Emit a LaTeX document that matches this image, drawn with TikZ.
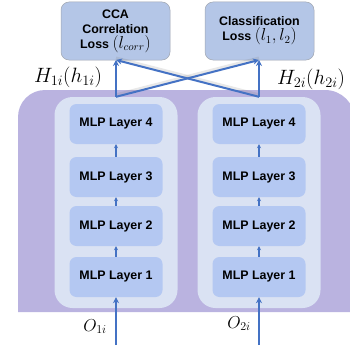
\documentclass[tikz,border=0pt]{standalone}
\usepackage{fontspec}
\setsansfont{Liberation Sans}
\usetikzlibrary{arrows.meta}
\definecolor{bgpurple}{RGB}{186,179,224}
\definecolor{panelc}{RGB}{218,226,243}
\definecolor{mlpc}{RGB}{180,200,242}
\definecolor{lossc}{RGB}{180,198,231}
\definecolor{lossb}{RGB}{160,165,175}
\definecolor{arrc}{RGB}{68,114,196}
\tikzset{
  mlp/.style={fill=mlpc, rounded corners=7pt, minimum width=93pt, minimum height=40pt,
    inner sep=0pt, font=\sffamily\bfseries\fontsize{12.4}{15}\selectfont},
  panel/.style={fill=panelc, rounded corners=18pt, minimum width=123pt, minimum height=211pt, inner sep=0pt},
  loss/.style={fill=lossc, draw=lossb, line width=0.5pt, rounded corners=8pt, minimum width=109pt,
    minimum height=58pt, inner sep=0pt, align=center, font=\sffamily\bfseries\fontsize{12.4}{15}\selectfont},
  bigarr/.style={draw=arrc, line width=2pt, -{Stealth[length=6pt,width=6pt]}},
  smallarr/.style={draw=arrc, line width=1.2pt, -{Stealth[length=4pt,width=4pt]}},
  shadowline/.style={draw=gray, line width=3pt, opacity=0.18},
  mathlab/.style={font=\fontsize{18}{20}\selectfont, inner sep=0pt}
}
\begin{document}
\begin{tikzpicture}[x=1pt,y=-1pt]
\useasboundingbox (0,0) rectangle (350,345);
\clip (0,0) rectangle (350,345);
% purple background
\fill[bgpurple] (18,312) -- (18,117) arc[start angle=180,end angle=270,radius=27] -- (325,90)
  arc[start angle=-90,end angle=0,radius=30] -- (355,312) -- cycle;
% panels
\node[panel] (P1) at (116,202.5) {};
\node[panel] (P2) at (259,202.5) {};
% MLP layers
\node[mlp] (A4) at (116,124) {MLP Layer 4};
\node[mlp] (A3) at (116,177) {MLP Layer 3};
\node[mlp] (A2) at (116,226) {MLP Layer 2};
\node[mlp] (A1) at (116,277) {MLP Layer 1};
\node[mlp] (B4) at (259,124) {MLP Layer 4};
\node[mlp] (B3) at (259,177) {MLP Layer 3};
\node[mlp] (B2) at (259,226) {MLP Layer 2};
\node[mlp] (B1) at (259,277) {MLP Layer 1};
% loss boxes
\node[loss] (L1) at (115.5,31) {CCA\\Correlation\\Loss {\mdseries\fontsize{16}{15}\selectfont$(l_{corr})$}};
\node[loss] (L2) at (259.5,31) {Classification\\Loss {\mdseries\fontsize{16}{15}\selectfont$(l_1,l_2)$}};
% small arrows
\draw[smallarr] (A1.north) -- (A2.south);
\draw[smallarr] (A2.north) -- (A3.south);
\draw[smallarr] (A3.north) -- (A4.south);
\draw[smallarr] (B1.north) -- (B2.south);
\draw[smallarr] (B2.north) -- (B3.south);
\draw[smallarr] (B3.north) -- (B4.south);
% inputs
\coordinate (I1) at (116,345);
\coordinate (I2) at (259,345);
\draw[bigarr] (I1) -- (A1.south);
\draw[bigarr] (I2) -- (B1.south);
\node[mathlab, anchor=base] (O1) at (95,331) {$O_{1i}$};
\node[mathlab, anchor=base] (O2) at (239,328) {$O_{2i}$};
% outputs
\coordinate (T1) at (116,60);
\coordinate (T2) at (259,60);
\draw[shadowline] ([yshift=2pt]P1.north) -- ([yshift=2pt]T2);
\draw[shadowline] ([yshift=2pt]P2.north) -- ([yshift=2pt]T1);
\draw[bigarr] (P1.north) -- (T1);
\draw[bigarr] (P2.north) -- (T2);
\draw[bigarr] (P1.north) -- (T2);
\draw[bigarr] (P2.north) -- (T1);
\node[mathlab, anchor=base, font=\fontsize{20}{22}\selectfont] (H1) at (68,82) {$H_{1i}(h_{1i})$};
\node[mathlab, anchor=base, font=\fontsize{20}{22}\selectfont] (H2) at (311,84) {$H_{2i}(h_{2i})$};
\end{tikzpicture}
\end{document}
